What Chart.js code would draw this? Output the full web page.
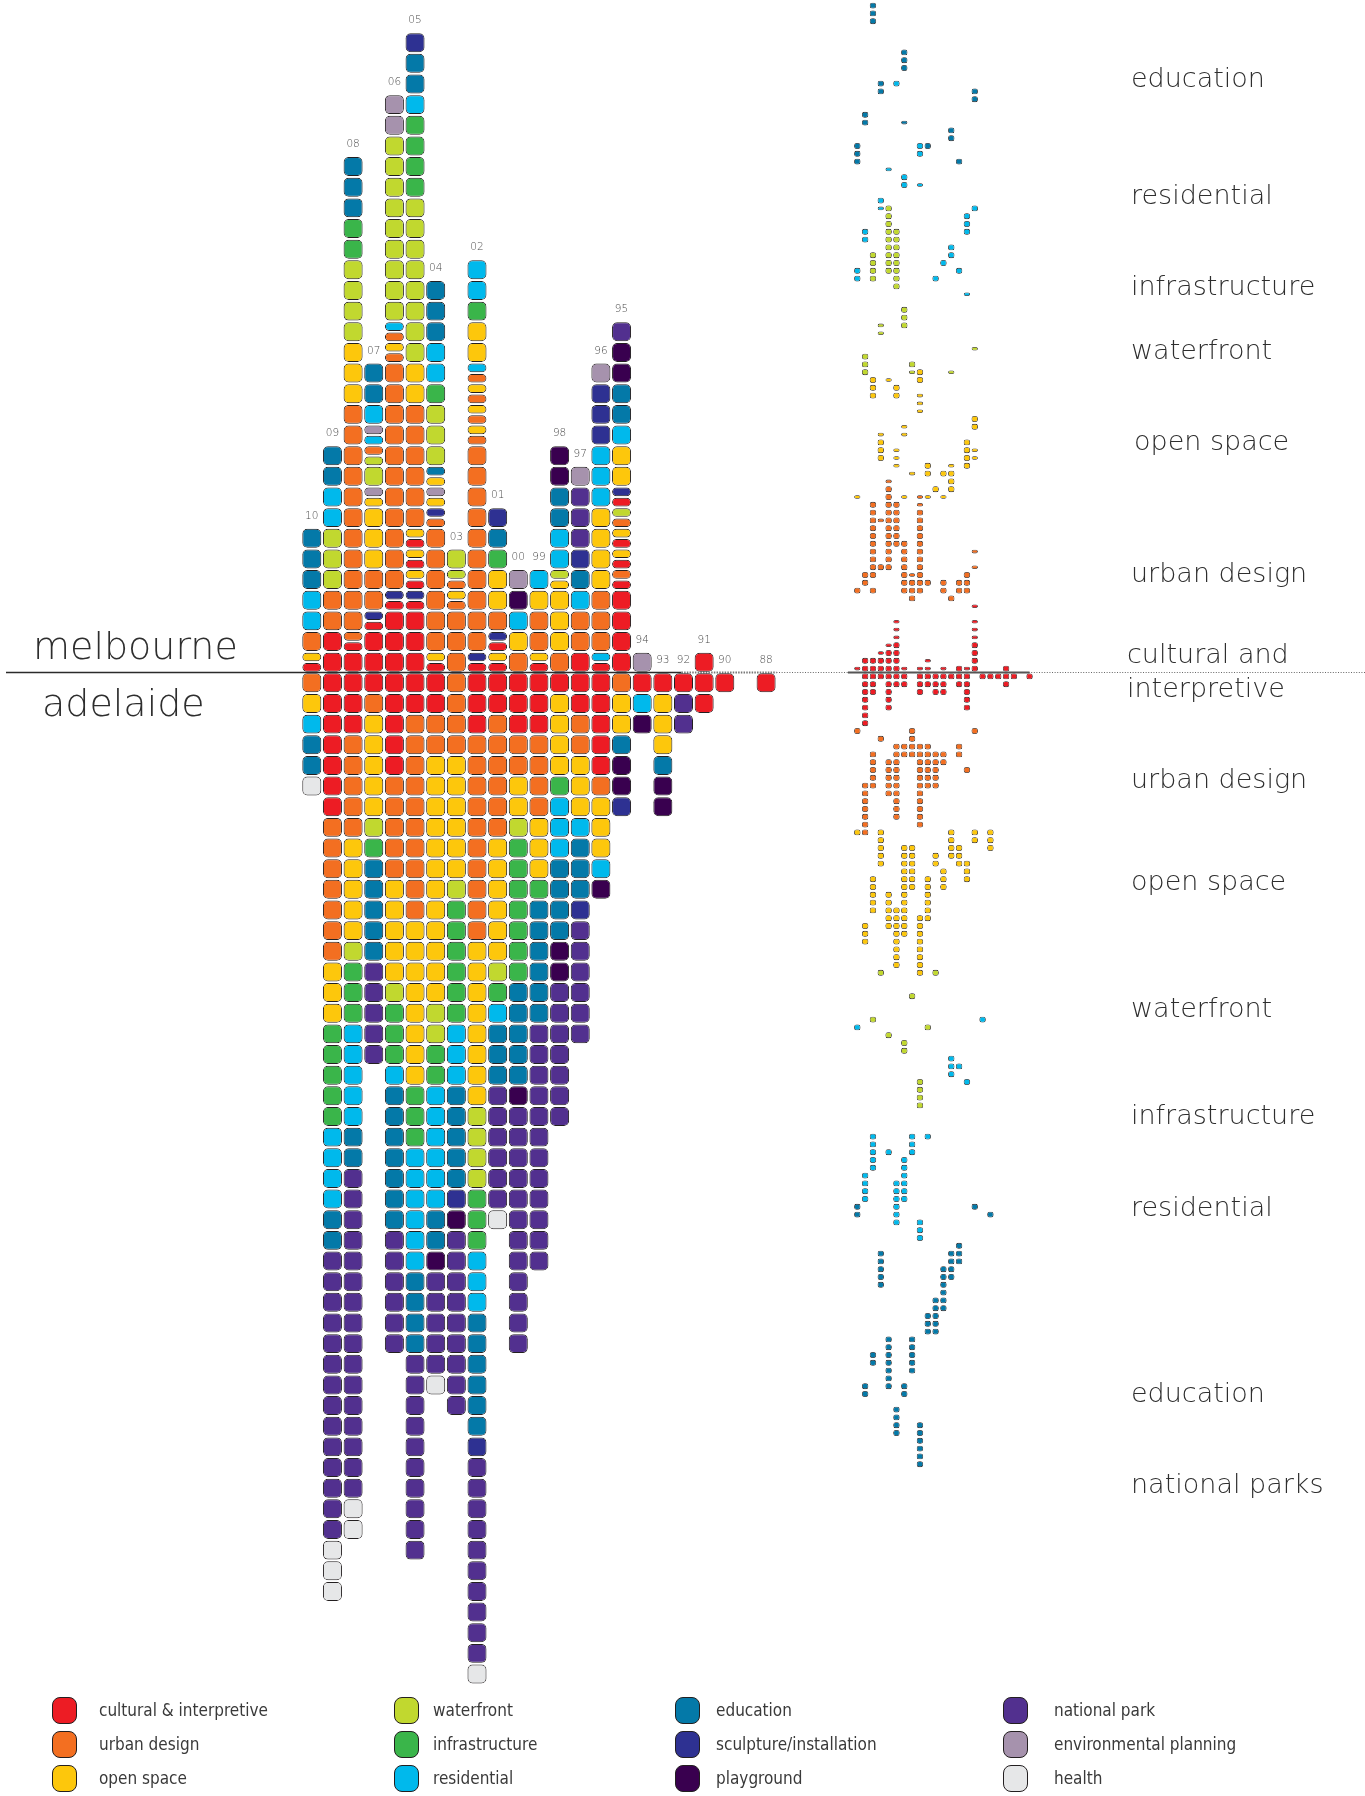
<!DOCTYPE html>
<html>
<head>
<meta charset="utf-8">
<script src="https://cdn.jsdelivr.net/npm/chart.js@4.4.0/dist/chart.umd.min.js"></script>
<style>
  html, body { margin: 0; padding: 0; background: #fff; }
  #wrap { position: relative; width: 1365px; height: 1796px; overflow: hidden; }
  #chart { position: absolute; left: 0; top: 0; }
  .t { position: absolute; white-space: nowrap; line-height: 1; color: #2e2e2e; font-family: 'DejaVu Sans', sans-serif; font-weight: 300; }
  .yr { color: #4a4a4a; text-align: center; width: 30px; }
  .lg { font-family: 'Liberation Sans Narrow', 'DejaVu Sans Condensed', 'Roboto', sans-serif; color: #3a3a3a; }
  .sw { position: absolute; width: 25px; height: 27px; border: 1px solid #231f20; border-radius: 8px; box-sizing: border-box; }
</style>
</head>
<body>
<div id="wrap"><canvas id="chart" width="1365" height="1796"></canvas></div>
<script>
"use strict";

// columns, left to right (89 had no projects)
var years = ['10', '09', '08', '07', '06', '05', '04', '03', '02', '01', '00', '99', '98', '97', '96', '95', '94', '93', '92', '91', '90', '', '88'];

// melbourne: runs from the line upwards, lower case = half-height cell
var melbourne = [
  '1c 1o 1U 2R 3E',
  '2C 2U 3W 2R 2E',
  '1C 1c 1u 11U 3O 4W 2I 3E',
  '2C 1c 1s 2U 3O 1o 1v 1W 1w 1u 1r 1v 1R 2E',
  '3C 1c 1s 11U 1u 1o 1u 1r 9W 2V',
  '3C 1c 1s 1c 1o 1c 1o 1c 1o 6U 2O 8W 4I 1R 2E 1S',
  '1c 1o 6U 1u 1s 1o 1v 1o 1e 3W 1I 2R 3E',
  '3U 1u 1o 1u 1w 1W',
  '1c 1s 10U 1u 1o 1u 1o 1u 1o 1u 1r 2O 1I 2R',
  '1c 1o 1c 1s 1U 2O 1I 1E 1S',
  '1U 1O 1R 1P 1V',
  '1c 1o 2U 1O 1R',
  '1U 3O 1o 1w 2R 2E 2P',
  '1C 2U 1R 1E 1S 3N 1V',
  '1c 1r 3U 4O 3R 3S 1V',
  '4C 1c 1u 1c 1o 1c 1o 1u 1w 1c 1s 2O 1R 2E 2P 1N',
  '1V', '', '', '1C', '', '', ''
];

// adelaide: runs from the line downwards
var adelaide = [
  '1U 1O 1R 2E 1H',
  '7C 7U 3O 5I 4R 2E 14N 3H',
  '3C 5U 5O 1W 3I 5R 2E 16N 2H',
  '1C 1U 5O 1W 1I 5E 5N',
  '5C 5U 5O 1W 3I 1R 7E 6N',
  '2C 10U 8O 3I 6R 4E 10N',
  '2C 2U 12O 2W 2I 6R 2E 1P 5N 1H',
  '4U 6O 1W 6I 3R 5E 1S 1P 9N',
  '3C 10U 8O 4W 3I 3R 6E 1S 10N 1H',
  '2C 6U 6O 1W 1I 1R 3E 6N 1H',
  '3C 2U 2O 1W 7I 5E 1P 12N',
  '3C 4U 3O 1I 6E 12N',
  '1C 4O 1I 3R 4E 2P 7N',
  '2C 2U 3O 1R 3E 1S 6N',
  '5C 1U 3O 1R 1P',
  '1U 2O 1E 2P 1S',
  '1C 1R 1P',
  '1C 3O 1E 2P',
  '1C 2N',
  '2C',
  '1C',
  '',
  '1C'
];

var categories = ['cultural & interpretive', 'urban design', 'open space', 'waterfront', 'infrastructure', 'residential',
  'education', 'sculpture/installation', 'playground', 'national park', 'environmental planning', 'health'];
var codes = ['C', 'U', 'O', 'W', 'I', 'R', 'E', 'S', 'P', 'N', 'V', 'H'];
var colours = ['#ed1c24', '#f36f21', '#fdc70c', '#c1d82f', '#3ab54a', '#00b9ec', '#0479a8', '#2e3192', '#39004f', '#52308f', '#a692ad', '#e6e7e8'];

// right hand strip: [slot, top row, count, thin] rows counted from the line, up is positive
var dotsCultural = [
  [0, 0, 1, 1], [1, 1, 2, 0], [2, 1, 2, 0], [3, 2, 1, 1], [3, 1, 2, 0], [4, 3, 1, 1], [4, 2, 3, 0], [5, 6, 3, 1], [5, 3, 4, 0],
  [6, 0, 1, 1], [8, 0, 1, 1], [9, 1, 2, 1], [11, 0, 1, 1], [13, 0, 1, 0], [14, 0, 1, 1], [15, 8, 1, 1], [15, 6, 3, 1], [15, 3, 4, 0], [19, 0, 1, 0],
  [1, -1, 7, 0], [2, -1, 3, 0], [3, -1, 1, 0], [4, -1, 5, 0], [5, -1, 2, 0], [6, -1, 2, 0], [8, -1, 3, 0], [9, -1, 2, 0], [10, -1, 3, 0],
  [11, -1, 3, 0], [12, -1, 1, 0], [13, -1, 2, 0], [14, -1, 5, 0], [16, -1, 1, 0], [17, -1, 1, 0], [18, -1, 1, 0], [19, -1, 2, 0], [20, -1, 1, 0], [22, -1, 1, 0]
];
var dotsUrban = [
  [4, 24, 1, 1], [4, 23, 11, 0], [2, 21, 10, 0], [2, 10, 1, 0], [3, 19, 1, 1], [3, 13, 1, 0], [5, 21, 6, 0], [6, 16, 7, 0],
  [8, 22, 2, 1], [8, 20, 11, 0], [7, 12, 1, 1], [7, 11, 3, 0], [9, 11, 1, 0], [1, 12, 2, 0], [0, 10, 1, 0], [11, 11, 2, 0],
  [12, 9, 1, 0], [13, 11, 2, 0], [14, 12, 3, 0], [15, 15, 1, 1], [15, 13, 1, 1],
  [0, -8, 1, 0], [3, -9, 1, 0], [7, -8, 4, 0], [15, -8, 1, 0], [13, -10, 2, 0], [5, -10, 10, 0], [6, -10, 2, 0], [8, -10, 11, 0],
  [9, -10, 6, 0], [10, -11, 5, 0], [11, -11, 2, 0], [2, -11, 5, 0], [4, -12, 5, 0], [1, -15, 7, 0], [14, -13, 1, 0]
];
var dotsOpen = [
  [2, 37, 3, 0], [4, 37, 1, 1], [5, 36, 2, 0], [8, 38, 2, 0], [8, 35, 3, 1], [6, 31, 2, 1], [3, 30, 1, 1], [3, 29, 3, 0], [5, 28, 3, 1],
  [7, 25, 1, 1], [9, 26, 2, 0], [11, 25, 1, 0], [11, 22, 1, 1], [12, 26, 1, 1], [12, 25, 3, 0], [10, 23, 1, 0], [9, 22, 1, 1],
  [15, 32, 2, 0], [14, 29, 4, 0], [15, 28, 2, 1], [0, 22, 1, 1], [6, 22, 1, 1],
  [0, -21, 1, 0], [3, -21, 5, 0], [6, -23, 12, 0], [7, -23, 6, 0], [10, -24, 2, 0], [11, -26, 3, 0], [12, -21, 4, 0], [13, -23, 3, 0],
  [14, -25, 3, 0], [15, -21, 2, 0], [17, -21, 3, 0], [2, -27, 5, 0], [4, -29, 5, 0], [5, -31, 8, 0], [9, -27, 6, 0], [8, -32, 8, 0], [1, -33, 3, 0]
];
var dotsWaterfront = [
  [4, 59, 9, 0], [5, 56, 8, 0], [2, 53, 4, 0], [6, 46, 3, 0], [3, 44, 2, 1], [15, 41, 1, 1], [1, 40, 3, 0], [7, 39, 1, 0], [7, 38, 1, 1], [12, 38, 1, 1],
  [3, -39, 1, 0], [10, -39, 1, 0], [7, -42, 1, 0], [2, -45, 1, 0], [4, -47, 1, 0], [6, -48, 2, 0], [9, -46, 1, 0], [8, -53, 4, 0]
];
var dotsResidential = [
  [5, 75, 1, 0], [8, 67, 2, 0], [4, 64, 1, 1], [6, 63, 2, 0], [8, 62, 1, 1], [3, 60, 1, 0], [3, 59, 1, 1], [1, 56, 2, 0], [0, 51, 2, 0],
  [15, 59, 1, 0], [14, 58, 3, 0], [12, 54, 2, 0], [11, 52, 1, 0], [13, 51, 1, 0], [10, 50, 1, 0], [14, 48, 1, 1],
  [0, -46, 1, 0], [16, -45, 1, 0], [12, -50, 3, 0], [13, -51, 1, 0], [14, -53, 1, 0], [9, -60, 1, 0], [2, -60, 5, 0], [4, -62, 1, 0],
  [7, -60, 3, 0], [6, -63, 6, 0], [1, -65, 4, 0], [5, -66, 6, 0], [8, -71, 3, 0]
];
var dotsEducation = [
  [2, 85, 3, 0], [6, 79, 3, 0], [3, 75, 2, 0], [15, 74, 2, 0], [1, 71, 2, 0], [6, 70, 1, 1], [12, 69, 2, 0], [0, 67, 3, 0], [9, 67, 1, 0], [13, 65, 1, 0],
  [0, -69, 2, 0], [15, -69, 1, 0], [17, -70, 1, 0], [3, -75, 5, 0], [13, -74, 3, 0], [12, -75, 4, 0], [11, -77, 6, 0], [10, -81, 5, 0],
  [9, -83, 3, 0], [4, -86, 7, 0], [7, -86, 5, 0], [2, -88, 2, 0], [1, -92, 2, 0], [6, -92, 2, 0], [5, -95, 4, 0], [8, -97, 6, 0]
];

var stripLabels = ['education', 'residential', 'infrastructure', 'waterfront', 'open space', 'urban design', 'cultural and', 'interpretive',
  'urban design', 'open space', 'waterfront', 'infrastructure', 'residential', 'education', 'national parks'];

// ---- layout (pixels) ----
var W = 1365, H = 1796;
var mainGrid = { x0: 311.8, dx: 20.65, y0: 672.5, dy: 20.65 };
var dotGrid = { x0: 857.3, dx: 7.83, y0: 672.5, dy: 7.8 };
var stripY = [80, 197, 288, 352, 443, 575, 656, 690, 781, 883, 1010, 1117, 1209, 1395, 1486];
var GAP = 0.04;

function runs(s) {
  s = s.trim();
  if (!s) return [];
  return s.split(/\s+/).map(function (t) {
    var c = t.slice(-1);
    return { count: parseInt(t, 10), code: c.toUpperCase(), half: c !== c.toUpperCase() };
  });
}

var mainSets = [];
codes.forEach(function (code, k) {
  var cells = [];
  years.forEach(function (yr, i) {
    var h = 0;
    runs(melbourne[i]).forEach(function (r) {
      var size = r.half ? 0.5 : 1;
      for (var n = 0; n < r.count; n++) {
        if (r.code === code) cells.push({ x: i, y: [h + GAP, h + size - GAP] });
        h += size;
      }
    });
    var d = 0;
    runs(adelaide[i]).forEach(function (r) {
      for (var n = 0; n < r.count; n++) {
        if (r.code === code) cells.push({ x: i, y: [-d - 1 + GAP, -d - GAP] });
        d += 1;
      }
    });
  });
  mainSets.push({
    label: categories[k],
    data: cells,
    xAxisID: 'x', yAxisID: 'y',
    backgroundColor: colours[k],
    borderColor: '#231f20',
    borderWidth: 1,
    borderRadius: 5,
    borderSkipped: false,
    barThickness: 19,
    grouped: false,
    inflateAmount: 0
  });
});

var dotLists = [['C', dotsCultural], ['U', dotsUrban], ['O', dotsOpen], ['W', dotsWaterfront], ['R', dotsResidential], ['E', dotsEducation]];
var dotSets = dotLists.map(function (pair) {
  var k = codes.indexOf(pair[0]);
  var pts = [];
  pair[1].forEach(function (s) {
    for (var n = 0; n < s[2]; n++) {
      var r = s[1] - n;
      pts.push({ x: s[0], y: s[3] ? [r + 0.27, r + 0.73] : [r + 0.12, r + 0.88] });
    }
  });
  return {
    label: categories[k] + ' (strip)',
    data: pts,
    xAxisID: 'x2', yAxisID: 'y2',
    backgroundColor: colours[k],
    borderColor: '#231f20',
    borderWidth: 0.8,
    borderRadius: 2.2,
    borderSkipped: false,
    barThickness: 6.4,
    grouped: false,
    inflateAmount: 0
  };
});

function axisRange(g) {
  return { xmin: -g.x0 / g.dx, xmax: (W - g.x0) / g.dx, ymin: (g.y0 - H) / g.dy, ymax: g.y0 / g.dy };
}
var ra = axisRange(mainGrid), rb = axisRange(dotGrid);

var baseLine = {
  id: 'baseLine',
  beforeDatasetsDraw: function (chart) {
    var ctx = chart.ctx;
    var y = chart.scales.y.getPixelForValue(0);
    var xEnd = chart.scales.x.getPixelForValue(17.9);
    var xDot = chart.scales.x.getPixelForValue(22.5);
    ctx.save();
    ctx.strokeStyle = '#2b2b2b';
    ctx.lineWidth = 1.4;
    ctx.beginPath(); ctx.moveTo(6, y); ctx.lineTo(xEnd, y); ctx.stroke();
    ctx.setLineDash([1.5, 1.2]);
    ctx.lineWidth = 2.2;
    ctx.strokeStyle = '#777';
    ctx.beginPath(); ctx.moveTo(xEnd, y); ctx.lineTo(xDot, y); ctx.stroke();
    ctx.setLineDash([1, 1.6]);
    ctx.lineWidth = 1;
    ctx.strokeStyle = '#666';
    ctx.beginPath(); ctx.moveTo(xDot, y); ctx.lineTo(chart.width, y); ctx.stroke();
    ctx.setLineDash([]);
    ctx.lineWidth = 2.2;
    ctx.strokeStyle = '#555';
    var y2 = chart.scales.y2.getPixelForValue(0);
    ctx.beginPath();
    ctx.moveTo(chart.scales.x2.getPixelForValue(-1.2), y2);
    ctx.lineTo(chart.scales.x2.getPixelForValue(22), y2);
    ctx.stroke();
    ctx.restore();
  }
};

var chart = new Chart(document.getElementById('chart'), {
  type: 'bar',
  data: { datasets: mainSets.concat(dotSets) },
  options: {
    responsive: false,
    animation: false,
    events: [],
    layout: { padding: 0 },
    plugins: { legend: { display: false }, tooltip: { enabled: false } },
    scales: {
      x: { type: 'linear', display: false, offset: false, min: ra.xmin, max: ra.xmax, grid: { offset: false } },
      y: { type: 'linear', display: false, min: ra.ymin, max: ra.ymax },
      x2: { type: 'linear', axis: 'x', display: false, offset: false, min: rb.xmin, max: rb.xmax, grid: { offset: false } },
      y2: { type: 'linear', axis: 'y', display: false, min: rb.ymin, max: rb.ymax }
    }
  },
  plugins: [baseLine]
});

// ---- text ----
var wrap = document.getElementById('wrap');
function place(text, left, centerY, size, cls) {
  var el = document.createElement('div');
  el.className = 't ' + (cls || '');
  el.textContent = text;
  el.style.fontSize = size + 'px';
  el.style.left = left + 'px';
  el.style.top = (centerY - 0.58 * size) + 'px';
  wrap.appendChild(el);
  return el;
}

years.forEach(function (yr, i) {
  if (!yr) return;
  var top = runs(melbourne[i]).reduce(function (s, r) { return s + r.count * (r.half ? 0.5 : 1); }, 0);
  var px = chart.scales.x.getPixelForValue(i);
  var py = chart.scales.y.getPixelForValue(top) - 12;
  place(yr, px - 15, py, 10.5, 'yr');
});

place('melbourne', 33, 649, 38);
place('adelaide', 42, 706, 38);

stripLabels.forEach(function (txt, i) {
  var left = 1131;
  if (txt === 'cultural and' || txt === 'interpretive') left = 1127;
  if (txt === 'open space' && i < 8) left = 1134;
  place(txt, left, stripY[i], 27);
});

// legend
var legendX = [52, 394, 675, 1003];
var legendTextX = [99, 433, 716, 1054];
var legendY = [1710, 1744, 1778];
categories.forEach(function (name, k) {
  var col = Math.floor(k / 3), row = k % 3;
  var sw = document.createElement('div');
  sw.className = 'sw';
  sw.style.left = legendX[col] + 'px';
  sw.style.top = (legendY[row] - 13.5) + 'px';
  sw.style.background = colours[k];
  wrap.appendChild(sw);
  place(name, legendTextX[col], legendY[row] + 2, 17, 'lg');
});
</script>
</body>
</html>
